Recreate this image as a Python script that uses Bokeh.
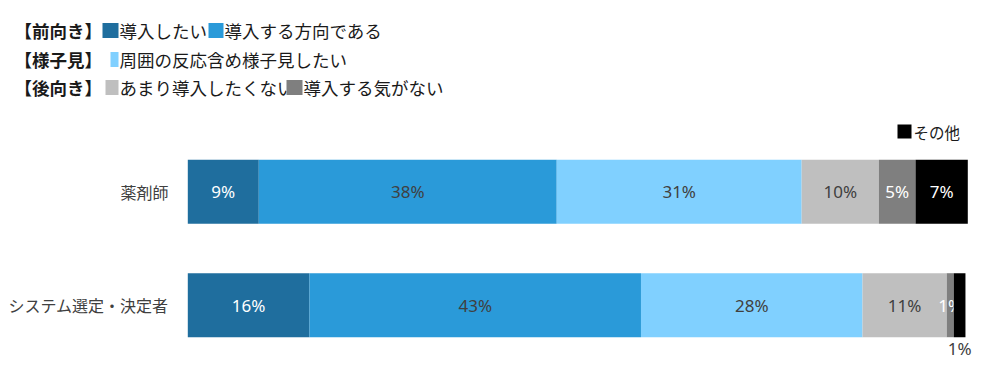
from bokeh.plotting import figure
from bokeh.models import Range1d, ColumnDataSource
from bokeh.core.properties import value
from bokeh.embed import file_html
from bokeh.resources import INLINE

# ---------------- data ----------------
categories = ["薬剤師", "システム選定・決定者"]
series_names = ["導入したい", "導入する方向である", "周囲の反応含め様子見したい",
                "あまり導入したくない", "導入する気がない", "その他"]
s_want = [9.1, 15.6]
s_direction = [38.2, 42.5]
s_wait = [31.4, 28.4]
s_reluctant = [9.9, 10.8]
s_no = [4.7, 0.9]
s_other = [6.7, 1.5]
lbl_want = ["9%", "16%"]
lbl_direction = ["38%", "43%"]
lbl_wait = ["31%", "28%"]
lbl_reluctant = ["10%", "11%"]
lbl_no = ["5%", "1%"]
lbl_other = ["7%", "1%"]
group_labels = ["【前向き】", "【様子見】", "【後向き】"]

series_values = [s_want, s_direction, s_wait, s_reluctant, s_no, s_other]
series_labels = [lbl_want, lbl_direction, lbl_wait, lbl_reluctant, lbl_no, lbl_other]
colors = ["#1F6E9E", "#2A9AD9", "#80D0FF", "#BFBFBF", "#7F7F7F", "#000000"]
label_colors = ["white", "#404040", "#404040", "#404040", "white", "white"]

# ---------------- layout helpers ----------------
W, H = 1000, 372
X0_PX, BAR_PX = 187.3, 780.0          # pixel where 0% starts, pixel length of 100%
Y0_PX, ROW_PX = 191.3, 113.4          # pixel centre of first category, spacing

def dx(px):
    return (px - X0_PX) / BAR_PX * 100.0

def dy(py):
    return (Y0_PX - py) / ROW_PX

def dw(px):
    return px / BAR_PX * 100.0

def dh(px):
    return px / ROW_PX

p = figure(width=W, height=H, x_range=Range1d(dx(0), dx(W)), y_range=Range1d(dy(H), dy(0)),
           x_axis_type=None, y_axis_type=None, min_border=0, toolbar_location=None,
           output_backend="svg", outline_line_color=None)
p.grid.visible = False
p.background_fill_color = "white"
p.border_fill_color = "white"

cat_y = [-i for i in range(len(categories))]
bar_h = dh(64)

# stacked bars
left = [0.0] * len(categories)
for name, vals, labs, col, lcol in zip(series_names, series_values, series_labels, colors, label_colors):
    right = [l + v for l, v in zip(left, vals)]
    src = ColumnDataSource(dict(y=cat_y, left=left, right=right))
    p.hbar(y="y", left="left", right="right", height=bar_h, source=src,
           fill_color=col, line_color=None)
    tx, ty, tc = [], [], []
    for i in range(len(categories)):
        cx = (left[i] + right[i]) / 2
        if name == "その他" and vals[i] < 2:
            tx.append(cx); ty.append(cat_y[i] - dh(43)); tc.append("#404040")
        else:
            tx.append(cx); ty.append(cat_y[i]); tc.append(lcol)
    p.text(x=tx, y=ty, text=labs, text_color=tc, text_align="center",
           text_baseline="middle", text_font=value("Noto Sans"), text_font_size="17px")
    left = right

# category labels
p.text(x=[dx(168)] * len(categories), y=cat_y, text=categories, text_align="right",
       text_baseline="middle", text_font=value("Noto Sans CJK JP"),
       text_font_size="16px", text_color="#404040")

# legend (top-left)
row_y = [30, 59, 87]
p.text(x=[dx(14)] * 3, y=[dy(v) for v in row_y], text=group_labels, text_align="left",
       text_baseline="middle", text_font=value("Noto Sans CJK JP"), text_font_style="bold",
       text_font_size="17.5px", text_color="#1a1a1a")

legend_items = [  # (series index, row, square left px, square right px, text x px)
    (0, 0, 102, 118, 119),
    (1, 0, 208, 223, 224),
    (2, 1, 110, 118, 119),
    (3, 2, 105, 118, 119),
    (4, 2, 286, 302, 303),
]
for si, row, sl, sr, tx in legend_items:
    p.rect(x=[dx((sl + sr) / 2)], y=[dy(row_y[row])], width=dw(sr - sl), height=dh(15),
           fill_color=colors[si], line_color=None)
    p.text(x=[dx(tx)], y=[dy(row_y[row])], text=[series_names[si]], text_align="left",
           text_baseline="middle", text_font=value("Noto Sans CJK JP"),
           text_font_size="17.5px", text_color="#1a1a1a")

# "その他" legend near top right
p.rect(x=[dx(904)], y=[dy(131)], width=dw(14), height=dh(14), fill_color=colors[5], line_color=None)
p.text(x=[dx(913)], y=[dy(131)], text=[series_names[5]], text_align="left",
       text_baseline="middle", text_font=value("Noto Sans CJK JP"),
       text_font_size="15.5px", text_color="#1a1a1a")

open("out.html", "w").write(file_html(p, INLINE))
